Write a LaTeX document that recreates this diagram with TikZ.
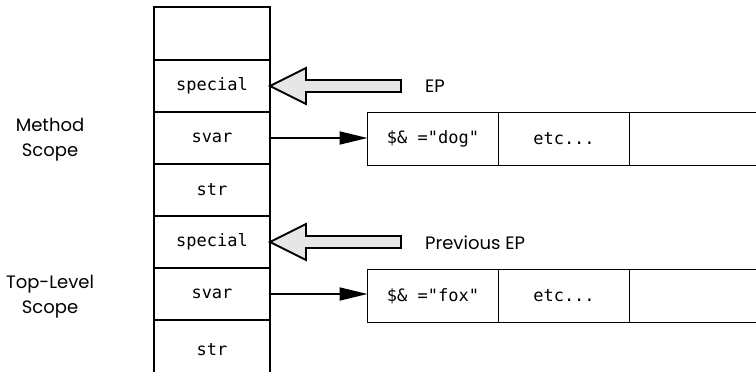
\documentclass[tikz,border=0pt]{standalone}
\usepackage{fontspec}
\setmainfont{Poppins}
\setmonofont{DejaVu Sans Mono}
\usetikzlibrary{arrows.meta,positioning}
\definecolor{epgray}{HTML}{E6E6E6}

\begin{document}
\begin{tikzpicture}[x=1pt,y=-1pt,
  cell/.style={draw,line width=1.8pt,minimum width=116pt,minimum height=52pt,inner sep=0pt,outer sep=0pt,font=\fontsize{17}{20}\selectfont\ttfamily},
  valbox/.style={draw,line width=1.8pt,minimum width=131pt,minimum height=53pt,inner sep=0pt,outer sep=0pt,font=\fontsize{17}{20}\selectfont\ttfamily},
  lbl/.style={font=\fontsize{18}{25}\selectfont,inner sep=0pt},
  ptr/.style={line width=1.8pt,-{Triangle[length=28pt,width=13pt]}},
  hollow/.style={draw,line width=1.8pt,fill=epgray,line join=miter}]
  \useasboundingbox (0,0) rectangle (756,372);
  \clip (0,0) rectangle (756,372);
  % the stack
  \node[cell,minimum height=53pt] (top) at (212,33.5) {};
  \foreach \name/\txt/\y in {spA/special/86,svA/svar/138,stA/str/190,spB/special/242,svB/svar/294}
    \node[cell] (\name) at (212,\y) {\txt};
  \node[cell,minimum height=60pt] (stB) at (212,350) {str};
  % scope labels
  \node[lbl,align=center] (mscope) at (50,140) {Method\\Scope};
  \node[lbl,align=center] (tscope) at (50,297) {Top-Level\\Scope};
  % value tables
  \node[valbox] (dogA) at (433,139) {\$\& ="dog"};
  \node[valbox,right=0pt of dogA] (etcA) {etc...};
  \node[valbox,right=0pt of etcA,minimum width=200pt] (restA) {};
  \node[valbox] (foxB) at (433,296) {\$\& ="fox"};
  \node[valbox,right=0pt of foxB] (etcB) {etc...};
  \node[valbox,right=0pt of etcB,minimum width=200pt] (restB) {};
  \draw[ptr] (svA.east) -- (svA.east -| dogA.west);
  \draw[ptr] (svB.east) -- (svB.east -| foxB.west);
  % environment pointers
  \draw[hollow] (spA.east) -- ++(36,-18) -- ++(0,12) -- ++(95,0) -- ++(0,12) -- ++(-95,0) -- ++(0,12) -- cycle;
  \draw[hollow] (spB.east) -- ++(36,-18) -- ++(0,12) -- ++(95,0) -- ++(0,12) -- ++(-95,0) -- ++(0,12) -- cycle;
  \node[lbl,anchor=west] (ep) at (425,86) {EP};
  \node[lbl,anchor=west] (prevep) at (425,243) {Previous EP};
\end{tikzpicture}
\end{document}
